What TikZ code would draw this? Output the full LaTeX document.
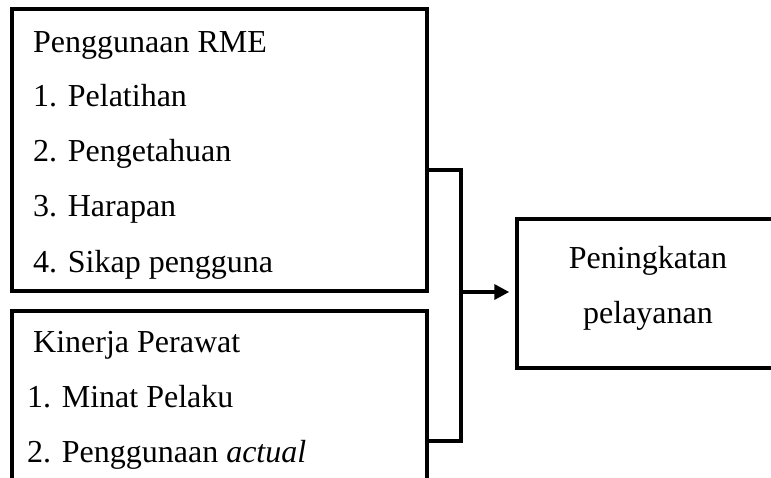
\documentclass[tikz,border=0pt]{standalone}
\usepackage{fontspec}
\setmainfont{Liberation Serif}
\usetikzlibrary{arrows.meta}
\begin{document}
\begin{tikzpicture}[x=1pt,y=-1pt,
  box/.style={draw,line width=3.5pt,rectangle,inner sep=0pt},
  txt/.style={anchor=base west,inner sep=0pt,font=\fontsize{32}{38}\selectfont},
  ctxt/.style={anchor=base,inner sep=0pt,font=\fontsize{32}{38}\selectfont},
  link/.style={line width=3.5pt},
  arrowlink/.style={line width=3.5pt,-{Triangle[length=15pt,width=15pt]},shorten >=6pt}]
\clip (0,0) rectangle (771,477);
\node[box,minimum width=415pt,minimum height=282pt] (b1) at (219.5,150) {};
\node[box,minimum width=415pt,minimum height=200pt] (b2) at (219.5,411) {};
\node[box,minimum width=283pt,minimum height=149pt] (rb) at (658.5,293.5) {};
\node[txt] (t0) at (33,52) {Penggunaan RME};
\node[txt] (t1) at (33,106) {1. Pelatihan};
\node[txt] (t2) at (33,161) {2. Pengetahuan};
\node[txt] (t3) at (33,216) {3. Harapan};
\node[txt] (t4) at (33,272) {4. Sikap pengguna};
\node[txt] (k0) at (33,352) {Kinerja Perawat};
\node[txt] (k1) at (27,407) {1. Minat Pelaku};
\node[txt] (k2) at (27,462) {2. Penggunaan \textit{actual}};
\node[ctxt] (r0) at (648,268) {Peningkatan};
\node[ctxt] (r1) at (648,323) {pelayanan};
\coordinate (j) at (461,292);
\draw[link] ([yshift=-20pt]b1.east) -| (j) |- ([yshift=-30pt]b2.east);
\draw[arrowlink] (j) -- (rb.west |- j);
\end{tikzpicture}
\end{document}
